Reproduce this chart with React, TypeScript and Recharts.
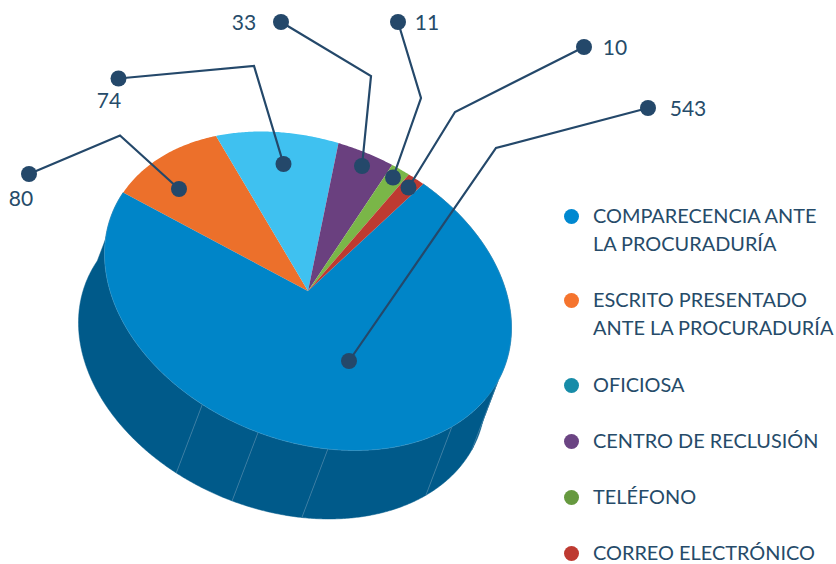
import { Legend, Pie, PieChart } from "recharts";

const categories = [
  "COMPARECENCIA ANTE LA PROCURADURÍA",
  "ESCRITO PRESENTADO ANTE LA PROCURADURÍA",
  "OFICIOSA",
  "CENTRO DE RECLUSIÓN",
  "TELÉFONO",
  "CORREO ELECTRÓNICO",
];
const values = [543, 80, 74, 33, 11, 10];
const sliceColors = ["#0085C8", "#EC702B", "#3FC1F0", "#6A407F", "#7AB648", "#BE3A31"];
const legendColors = ["#0088D0", "#F5742E", "#178CA8", "#6B4483", "#66993F", "#BE3A31"];
const legendLines = [
  ["COMPARECENCIA ANTE", "LA PROCURADURÍA"],
  ["ESCRITO PRESENTADO", "ANTE LA PROCURADURÍA"],
  ["OFICIOSA"],
  ["CENTRO DE RECLUSIÓN"],
  ["TELÉFONO"],
  ["CORREO ELECTRÓNICO"],
];
const wallFacets = [76.5, 24, 39.4, 19.8, 17.1, 83.5];

// layout
const WIDTH = 836;
const HEIGHT = 564;
const CX = 308;
const CY = 291;
const RADIUS = 203.5;
const START_ANGLE = 55.5;
const BLUE_SWEEP = (values[0] / values.reduce((a, b) => a + b, 0)) * 360;
const SHEAR = 0.181;
const SQUASH = 0.7625;
const DEPTH_X = -26;
const DEPTH_Y = 68.5;
const TEXT = "#264B69";
const DOT = "#24486A";

// anchor in the slice, bend, outer end, label centre
const leaders = [
  { pts: [[349, 361], [496, 148], [648, 108]], label: [688, 107] },
  { pts: [[179, 189], [120, 135.5], [29, 174]], label: [21, 197] },
  { pts: [[283.5, 164], [254, 66], [118.5, 78.5]], label: [109, 99] },
  { pts: [[362, 166], [371, 76], [281, 22]], label: [244, 21] },
  { pts: [[393, 177.5], [421, 98], [398, 22]], label: [427, 21] },
  { pts: [[408.5, 187.5], [455, 112], [584, 47]], label: [615, 46] },
];
const legendRows = [216, 300, 385, 441, 497, 553];
const LINE_GAP = 27.5;

const tiltPoint = (cx: number, cy: number, r: number, deg: number) => {
  const t = (deg * Math.PI) / 180;
  return [cx + r * Math.cos(t), cy + r * SHEAR * Math.cos(t) - r * SQUASH * Math.sin(t)];
};

const arcPoints = (cx: number, cy: number, r: number, from: number, to: number) => {
  const steps = Math.max(2, Math.ceil(Math.abs(to - from) * 2));
  const pts: number[][] = [];
  for (let i = 0; i <= steps; i++) {
    pts.push(tiltPoint(cx, cy, r, from + ((to - from) * i) / steps));
  }
  return pts;
};

const toPath = (pts: number[][]) =>
  pts.map((p, i) => `${i ? "L" : "M"}${p[0].toFixed(2)},${p[1].toFixed(2)}`).join("") + "Z";

const TopSlice = (props: any) => {
  const { cx, cy, outerRadius, startAngle, endAngle, index } = props;
  const pts = [[cx, cy], ...arcPoints(cx, cy, outerRadius, startAngle, endAngle)];
  return <path d={toPath(pts)} fill={sliceColors[index]} stroke={index === 0 ? "#4FA3D1" : "none"} strokeWidth={index === 0 ? 0.4 : 0} />;
};

const WallFacet = (props: any) => {
  const { cx, cy, outerRadius, startAngle, endAngle, index } = props;
  const top = arcPoints(cx, cy, outerRadius, startAngle, endAngle);
  const bottom = arcPoints(cx + DEPTH_X, cy + DEPTH_Y, outerRadius, endAngle, startAngle);
  const [x1, y1] = top[0];
  return (
    <g>
      <path d={toPath([...top, ...bottom])} fill="#005A8A" stroke="#005A8A" strokeWidth={0.5} />
      {index > 0 && (
        <line x1={x1} y1={y1} x2={x1 + DEPTH_X} y2={y1 + DEPTH_Y} stroke="#4C86A9" strokeWidth={0.7} />
      )}
    </g>
  );
};

const Leader = (props: any) => {
  const { index } = props;
  const { pts, label } = leaders[index];
  return (
    <g>
      <polyline points={pts.map((p) => p.join(",")).join(" ")} fill="none" stroke={DOT} strokeWidth={2.2} />
      <circle cx={pts[0][0]} cy={pts[0][1]} r={8} fill={DOT} />
      <circle cx={pts[2][0]} cy={pts[2][1]} r={8} fill={DOT} />
      <text x={label[0]} y={label[1]} textAnchor="middle" dominantBaseline="central" fontFamily="Lato" fontSize={21} fill={TEXT}>
        {values[index]}
      </text>
    </g>
  );
};

const LegendBlock = () => (
  <div style={{ position: "relative", width: WIDTH, height: HEIGHT, fontFamily: "Lato", fontSize: 19.9, color: TEXT }}>
    {categories.map((name, i) => (
      <div key={name}>
        <div
          style={{
            position: "absolute",
            left: 563.5,
            top: legendRows[i] - 7.5,
            width: 15,
            height: 15,
            borderRadius: "50%",
            background: legendColors[i],
          }}
        />
        {legendLines[i].map((line, j) => (
          <div
            key={line}
            style={{
              position: "absolute",
              left: 593,
              top: legendRows[i] + j * LINE_GAP - 15,
              height: 28,
              lineHeight: "28px",
              whiteSpace: "nowrap",
            }}
          >
            {line}
          </div>
        ))}
      </div>
    ))}
  </div>
);

const sliceData = categories.map((name, i) => ({ name, value: values[i] }));
const facetData = wallFacets.map((value, i) => ({ name: `facet${i}`, value }));

export default function App() {
  return (
    <div style={{ position: "absolute", left: 0, top: 0, width: WIDTH, height: HEIGHT, overflow: "hidden" }}>
      <PieChart width={WIDTH} height={HEIGHT} margin={{ top: 0, right: 0, bottom: 0, left: 0 }}>
        <Pie
          data={facetData}
          dataKey="value"
          cx={CX}
          cy={CY}
          outerRadius={RADIUS}
          startAngle={START_ANGLE}
          endAngle={START_ANGLE - BLUE_SWEEP}
          shape={WallFacet}
          stroke="none"
          isAnimationActive={false}
        />
        <Pie
          data={sliceData}
          dataKey="value"
          cx={CX}
          cy={CY}
          outerRadius={RADIUS}
          startAngle={START_ANGLE}
          endAngle={START_ANGLE - 360}
          shape={TopSlice}
          label={Leader}
          labelLine={false}
          stroke="none"
          isAnimationActive={false}
        />
        <Legend
          layout="horizontal"
          verticalAlign="middle"
          align="center"
          content={LegendBlock}
          wrapperStyle={{ left: 0, top: 0, width: WIDTH, height: HEIGHT, pointerEvents: "none" }}
        />
      </PieChart>
    </div>
  );
}
